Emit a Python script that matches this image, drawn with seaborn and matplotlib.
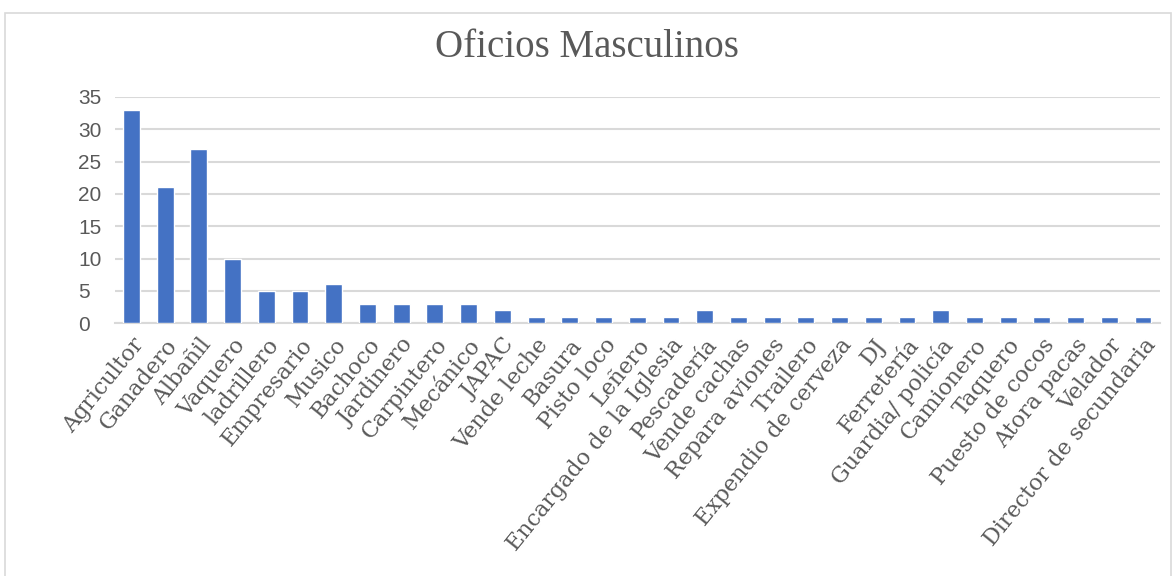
import matplotlib
matplotlib.use("Agg")
import matplotlib.pyplot as plt
from matplotlib.patches import Rectangle
import seaborn as sns
import pandas as pd

oficios = [
    "Agricultor", "Ganadero", "Albañil", "Vaquero", "ladrillero", "Empresario",
    "Musico", "Bachoco", "Jardinero", "Carpintero", "Mecánico", "JAPAC",
    "Vende leche", "Basura", "Pisto loco", "Leñero", "Encargado de la Iglesia",
    "Pescadería", "Vende cachas", "Repara aviones", "Trailero",
    "Expendio de cerveza", "DJ", "Ferretería", "Guardia/ policía", "Camionero",
    "Taquero", "Puesto de cocos", "Atora pacas", "Velador",
    "Director de secundaria",
]
cantidad = [33, 21, 27, 10, 5, 5, 6, 3, 3, 3, 3, 2, 1, 1, 1, 1, 1, 2, 1, 1, 1,
            1, 1, 1, 2, 1, 1, 1, 1, 1, 1]
y_ticks = [0, 5, 10, 15, 20, 25, 30, 35]
titulo = "Oficios Masculinos"

df = pd.DataFrame({"oficio": oficios, "cantidad": cantidad})

sns.set_theme(style="white")
plt.rcParams["font.family"] = ["Liberation Serif", "DejaVu Serif"]

fig = plt.figure(figsize=(11.74, 5.76), dpi=100)
ax = fig.add_axes([0.0976, 0.439, 0.8904, 0.3926])

sns.barplot(data=df, x="oficio", y="cantidad", color="#4472C4", saturation=1,
            width=0.5, ax=ax, zorder=3)

ax.set_ylim(0, 35)
ax.set_yticks(y_ticks)
ax.set_xlim(-0.5, len(oficios) - 0.5)
ax.grid(axis="y", color="#d9d9d9", linewidth=1.5, zorder=0)
ax.grid(axis="x", visible=False)
for s in ["top", "right", "left"]:
    ax.spines[s].set_visible(False)
ax.spines["bottom"].set_color("#d9d9d9")
ax.spines["bottom"].set_linewidth(1.5)
ax.set_xlabel("")
ax.set_ylabel("")

ax.tick_params(axis="y", length=0, pad=26, labelsize=15, labelcolor="#595959")
for lab in ax.get_yticklabels():
    lab.set_family(["Liberation Sans Narrow", "Liberation Sans", "DejaVu Sans"])
    lab.set_horizontalalignment("left")
ax.tick_params(axis="x", length=0, pad=8, labelsize=16, labelcolor="#595959")
for lab in ax.get_xticklabels():
    lab.set_family(["DejaVu Serif"])
plt.setp(ax.get_xticklabels(), rotation=51, ha="right", rotation_mode="anchor")

fig.text(0.5, 0.918, titulo, ha="center", va="center", fontsize=28,
         color="#595959")

fig.patches.append(Rectangle((5 / 1174, -0.01), 1166 / 1174, 1 - 13 / 576 + 0.01,
                             transform=fig.transFigure, fill=False,
                             edgecolor="#d9d9d9", linewidth=1.2))

fig.savefig("out.png", dpi=100, facecolor="white")
